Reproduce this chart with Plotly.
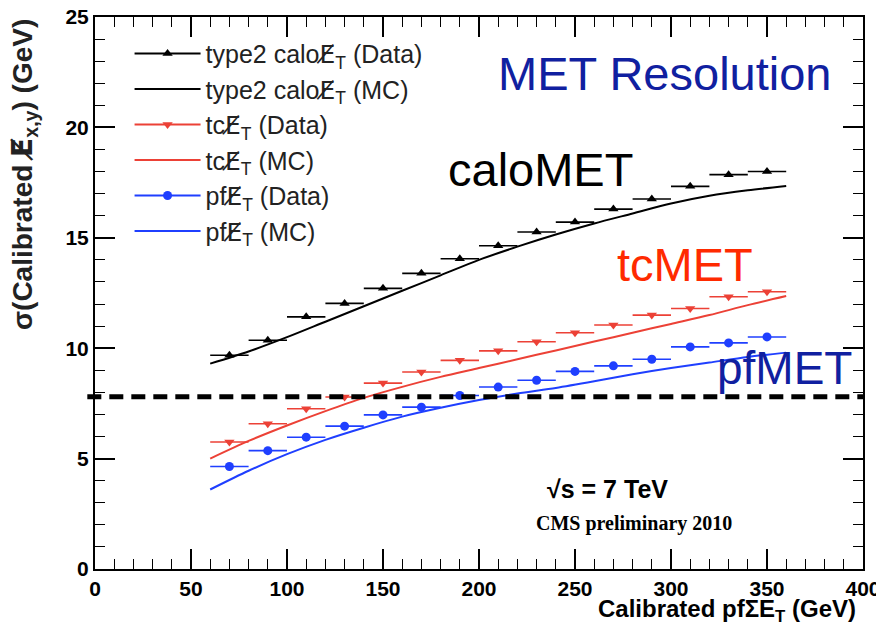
import plotly.graph_objects as go

# Bin centres (20 GeV bins from 60 to 360) and MC curve sampling
bin_centres = [70, 90, 110, 130, 150, 170, 190, 210, 230, 250, 270, 290, 310, 330, 350]
bin_half_width = [10] * len(bin_centres)
mc_x = [60, 80, 100, 120, 140, 160, 180, 200, 220, 240, 260, 280, 300, 320, 340, 360]

calo_data = [9.68, 10.36, 11.42, 12.03, 12.71, 13.39, 14.05, 14.64, 15.26, 15.71, 16.30, 16.76, 17.33, 17.86, 18.0]
calo_mc = [9.3, 9.85, 10.5, 11.2, 11.9, 12.6, 13.3, 14.0, 14.6, 15.15, 15.65, 16.1, 16.55, 16.9, 17.15, 17.35]

tc_data = [5.75, 6.58, 7.26, 7.79, 8.42, 8.92, 9.45, 9.88, 10.29, 10.70, 11.05, 11.50, 11.80, 12.33, 12.56]
tc_mc = [5.0, 5.8, 6.5, 7.15, 7.75, 8.25, 8.7, 9.1, 9.5, 9.9, 10.3, 10.7, 11.1, 11.5, 11.95, 12.36]

pf_data = [4.64, 5.36, 5.97, 6.47, 6.98, 7.33, 7.86, 8.24, 8.55, 8.95, 9.20, 9.50, 10.06, 10.24, 10.51]
pf_mc = [3.6, 4.45, 5.2, 5.85, 6.4, 6.9, 7.3, 7.65, 7.95, 8.2, 8.5, 8.82, 9.1, 9.35, 9.6, 9.8]

reference_level = 7.8

BLACK = "#000000"
RED = "#ec4136"
BLUE = "#1f3fff"
NAVY = "#1020a0"
# missing transverse energy symbol (E with an overlaid slash)
MET = '<span style="font-family:DejaVu Sans">E\u0338</span>'

series = [
    ("type2 calo", calo_data, calo_mc, BLACK, "triangle-up"),
    ("tc", tc_data, tc_mc, RED, "triangle-down"),
    ("pf", pf_data, pf_mc, BLUE, "circle"),
]

fig = go.Figure()

for name, data, mc, color, symbol in series:
    # MC curve
    fig.add_trace(go.Scatter(
        x=mc_x, y=mc, mode="lines", line=dict(color=color, width=2, shape="spline", smoothing=0.8),
        showlegend=False, hoverinfo="skip"))
    # Data points with bin-width error bars
    fig.add_trace(go.Scatter(
        x=bin_centres, y=data, mode="markers",
        marker=dict(color=color, symbol=symbol, size=9),
        error_x=dict(type="data", array=bin_half_width, color=color, thickness=1.6, width=0),
        showlegend=False))

# Legend entries
for name, data, mc, color, symbol in series:
    fig.add_trace(go.Scatter(
        x=[None], y=[None], mode="lines+markers",
        line=dict(color=color, width=2),
        marker=dict(color=color, symbol=symbol, size=9),
        name=f"{name}{MET}<sub>T</sub> (Data)"))
    fig.add_trace(go.Scatter(
        x=[None], y=[None], mode="lines",
        line=dict(color=color, width=2),
        name=f"{name}{MET}<sub>T</sub> (MC)"))

# Reference level
fig.add_shape(type="line", xref="paper", yref="y", x0=-0.01, x1=1.0,
              y0=reference_level, y1=reference_level,
              line=dict(color="black", width=5, dash="14px,8px"))

sans = "Liberation Sans, Arial, sans-serif"
bold_tick = dict(family=sans, size=21, color="black", weight="bold")

axis_common = dict(
    showline=True, linecolor="black", linewidth=2, mirror="ticks",
    ticks="inside", ticklen=20, tickwidth=1.5, tickcolor="black",
    showgrid=False, zeroline=False, tickfont=bold_tick, ticklabeloverflow="allow",
    automargin=False,
)

fig.update_xaxes(range=[0, 400], dtick=50,
                 minor=dict(ticks="inside", ticklen=10, dtick=10, tickcolor="black", tickwidth=1.2),
                 **axis_common)
fig.update_yaxes(range=[0, 25], dtick=5,
                 minor=dict(ticks="inside", ticklen=10, dtick=1, tickcolor="black", tickwidth=1.2),
                 **axis_common)

annotations = [
    dict(text="MET Resolution", x=297.0, y=22.45, font=dict(family=sans, size=47, color=NAVY)),
    dict(text="caloMET", x=232.0, y=18.1, font=dict(family=sans, size=47, color="black")),
    dict(text="tcMET", x=307.4, y=13.8, font=dict(family=sans, size=47, color="#ff2a00")),
    dict(text="pfMET", x=358.9, y=9.1, font=dict(family=sans, size=46, color=NAVY)),
    dict(text="\u221As = 7 TeV", x=267.0, y=3.62, font=dict(family=sans, size=25, color="black", weight="bold")),
    dict(text="CMS preliminary 2010", x=280.5, y=2.08,
         font=dict(family="Liberation Serif, Times New Roman, serif", size=20, color="black", weight="bold")),
]
for a in annotations:
    fig.add_annotation(xref="x", yref="y", showarrow=False, xanchor="center", yanchor="middle", **a)

# Axis titles, ROOT style: x title right-aligned, y title top-aligned
fig.add_annotation(xref="paper", yref="paper", x=0.993, y=-0.076, xanchor="right", yanchor="middle",
                   showarrow=False, text="Calibrated pf\u03a3E<sub>T</sub> (GeV)",
                   font=dict(family=sans, size=24, color="black", weight="bold"))
fig.add_annotation(xref="paper", yref="paper", x=-0.093, y=1.0, xanchor="center", yanchor="top",
                   textangle=-90, showarrow=False,
                   text=f"\u03c3(Calibrated {MET}<sub>x,y</sub>) (GeV)",
                   font=dict(family=sans, size=28, color="#222222", weight="bold"))

fig.update_layout(
    width=876, height=626,
    margin=dict(l=95, r=13, t=17, b=57),
    paper_bgcolor="white", plot_bgcolor="white",
    legend=dict(x=0.045, y=0.975, xanchor="left", yanchor="top",
                font=dict(family=sans, size=25, color="#222222"),
                bgcolor="rgba(0,0,0,0)", tracegroupgap=0, itemwidth=66),
)

fig.write_html("out.html")
